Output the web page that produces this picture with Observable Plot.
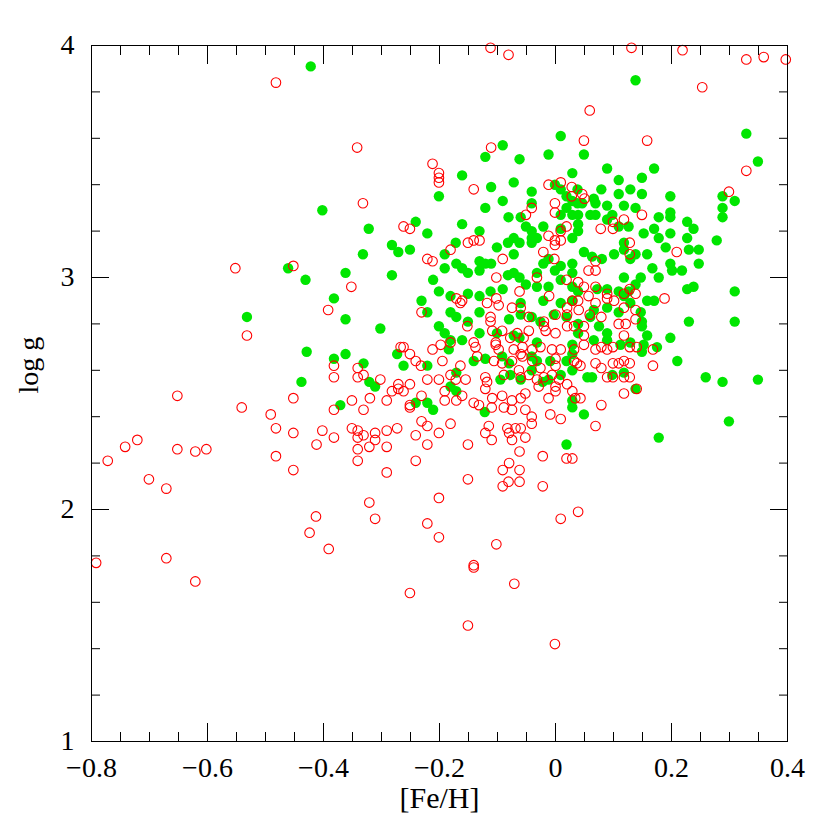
<!DOCTYPE html>
<html><head><meta charset="utf-8">
<script src="https://cdn.jsdelivr.net/npm/d3@7"></script>
<script src="https://cdn.jsdelivr.net/npm/@observablehq/plot@0.6"></script>
<style>html,body{margin:0;padding:0;background:#fff;}</style>
</head><body><div id="chart"></div>
<script>
// [Fe/H], log g  — open red circles
const redStars = [
[-0.532,2.75],[-0.652,2.49],[-0.541,2.44],[-0.491,2.41],[-0.482,2.35],[-0.452,2.48],[-0.452,2.33],[-0.482,2.23],[-0.452,2.17],[-0.721,2.30],[-0.742,2.27],[-0.772,2.21],[-0.701,2.13],[-0.671,2.09],[-0.652,2.26],[-0.621,2.25],[-0.602,2.26],[-0.792,1.77],[-0.671,1.79],[-0.621,1.69],[-0.424,1.90],
[-0.482,3.84],[-0.342,3.56],[-0.332,3.32],[-0.552,3.04],[-0.452,3.05],[-0.352,2.96],[-0.392,2.86],
[-0.413,1.97],[-0.391,1.83],[-0.321,2.03],[-0.311,1.96],[-0.382,2.62],[-0.382,2.57],[-0.382,2.43],[-0.382,2.31],[-0.412,2.28],[-0.402,2.34],[-0.351,2.47],[-0.331,2.43],[-0.320,2.48],[-0.302,2.56],[-0.291,2.47],[-0.341,2.61],[-0.341,2.57],[-0.331,2.58],[-0.351,2.35],[-0.341,2.34],[-0.341,2.31],[-0.331,2.32],[-0.311,2.33],[-0.311,2.30],[-0.321,2.27],[-0.341,2.26],[-0.341,2.21],[-0.291,2.27],[-0.291,2.16],[-0.291,2.34],[-0.273,2.35],[-0.271,2.54],[-0.271,2.52],[-0.282,2.51],[-0.267,2.70],
[-0.151,2.13],[-0.091,2.10],[-0.081,2.12],[-0.062,2.12],[-0.091,2.17],[-0.062,2.17],[-0.022,2.10],[-0.201,2.05],[-0.221,1.94],[-0.201,1.88],[-0.102,1.85],[0.009,1.96],[0.039,1.99],[-0.141,1.76],[-0.141,1.75],[-0.071,1.68],[-0.251,1.64],[-0.151,1.50],[-0.001,1.42],
[0.329,3.94],[0.359,3.95],[0.397,3.94],[0.253,3.82],[0.329,3.46],[0.299,3.37],[-0.112,3.99],[-0.081,3.96],[0.131,3.99],[0.219,3.98],
[0.059,3.72],[0.049,3.59],[0.158,3.59],[0.050,3.34],[0.046,3.36],
[0.149,3.27],[0.118,3.25],[0.099,3.24],[0.099,3.21],[0.078,3.21],[0.128,3.15],[0.128,3.10],[0.209,3.11],[0.069,3.07],[0.069,3.03],[0.057,3.03],[0.049,2.96],[0.069,2.96],[0.089,2.93],[0.089,2.91],[0.101,2.90],[0.128,2.95],[0.138,2.93],[0.118,2.93],[0.069,2.89],[0.118,2.87],[0.138,2.86],[0.138,2.82],[0.057,2.92],[0.059,2.84],[0.079,2.83],[0.109,2.80],[0.121,2.80],[0.049,2.79],[0.049,2.75],[0.118,2.75],[0.188,2.91],[0.128,2.70],[0.140,2.70],[0.168,2.69],[0.069,2.69],[0.079,2.70],[0.089,2.69],[0.099,2.70],[0.069,2.63],[0.079,2.61],[0.099,2.63],[0.109,2.63],[0.118,2.64],[0.128,2.63],[0.168,2.62],[0.089,2.57],[0.099,2.57],[0.118,2.57],[0.128,2.57],[0.140,2.52],[0.118,2.50],[0.079,2.45],[0.043,2.62],[0.043,2.48],
[-0.212,3.49],[-0.201,3.45],[-0.201,3.43],[-0.201,3.41],[-0.111,3.56],[-0.141,3.38],[-0.012,3.40],[0.009,3.41],[0.028,3.39],[0.028,3.35],[-0.001,3.32],[-0.001,3.28],[-0.041,3.30],[-0.051,3.27],[0.019,3.22],[-0.151,3.15],[-0.141,3.16],[-0.131,3.16],[-0.012,3.18],[0.009,3.20],[-0.001,3.16],[-0.001,3.14],[0.009,3.16],[-0.021,3.11],[-0.002,3.08],[-0.221,3.08],[-0.212,3.07],[-0.181,3.12],[-0.091,3.08],[-0.102,3.00],[-0.032,3.00],[0.019,2.99],[0.039,2.98],[-0.062,2.94],[-0.011,2.92],[0.029,2.90],[0.039,2.90],[-0.171,2.91],[-0.161,2.90],[-0.262,3.22],[-0.251,3.21],[-0.102,2.91],
[-0.164,2.89],[-0.118,2.89],[-0.098,2.88],[-0.075,2.87],[-0.060,2.87],[-0.046,2.83],[-0.020,2.81],[-0.020,2.79],[0.000,2.84],[0.020,2.87],[0.020,2.84],[0.040,2.86],[-0.152,2.79],[-0.112,2.83],[-0.112,2.81],[-0.109,2.77],[-0.092,2.77],[-0.078,2.74],[-0.066,2.76],[-0.055,2.74],[-0.046,2.77],[-0.017,2.77],[0.000,2.76],[0.020,2.79],[0.032,2.79],[-0.198,2.71],[-0.181,2.72],[-0.141,2.72],[-0.138,2.70],[-0.103,2.72],[-0.103,2.71],[-0.098,2.69],[-0.072,2.69],[-0.057,2.70],[-0.060,2.67],[-0.040,2.69],[-0.026,2.70],[-0.006,2.69],[0.009,2.69],[0.032,2.69],[0.049,2.71],[-0.195,2.64],[-0.164,2.62],[-0.135,2.66],[-0.106,2.64],[-0.092,2.63],[-0.075,2.64],[-0.057,2.66],[-0.040,2.64],[-0.026,2.61],[0.000,2.65],[0.000,2.62],[0.032,2.64],[0.037,2.63],[-0.181,2.58],[-0.172,2.56],[-0.155,2.56],[-0.121,2.57],[-0.118,2.55],[-0.089,2.58],[-0.063,2.60],[-0.060,2.57],[-0.046,2.58],[-0.032,2.56],[-0.020,2.57],[-0.006,2.58],[0.006,2.56],[0.000,2.53],[0.020,2.54],[-0.161,2.49],[-0.141,2.46],[-0.132,2.45],[-0.109,2.48],[-0.092,2.49],[-0.075,2.47],[-0.060,2.48],[-0.052,2.50],[-0.029,2.53],[-0.012,2.48],[0.000,2.51],[0.029,2.51],[0.034,2.48],[-0.089,2.44],[-0.075,2.43],[-0.052,2.43],[-0.009,2.41],[0.009,2.39],[-0.181,2.37],[-0.115,2.36],[-0.083,2.35],[-0.069,2.35],[-0.060,2.35],[-0.052,2.31],[-0.080,2.33],[-0.075,2.30],[0.069,2.36],
[-0.231,2.85],[-0.262,2.70],[-0.251,2.67],[-0.241,2.64],[-0.232,2.62],[-0.212,2.69],[-0.251,2.54],[-0.262,2.51],[-0.251,2.45],[-0.251,2.44],[-0.231,2.49],[-0.221,2.56],[-0.201,2.56],[-0.191,2.51],[-0.191,2.47],[-0.171,2.47],[-0.241,2.32],[-0.221,2.36],[-0.231,2.38],[-0.221,2.28],[-0.241,2.21],[-0.201,2.33],[-0.151,2.28],[-0.121,2.33],[-0.110,2.30],[-0.062,2.25],[-0.041,2.40],[-0.041,2.37],[-0.022,2.23],[0.019,2.22],[0.029,2.22],[-0.080,2.20],[-0.121,2.52],[-0.110,2.44]
];

// [Fe/H], log g  — filled green dots
const greenStars = [
[-0.532,2.83],[-0.429,2.68],[-0.438,2.55],
[-0.422,3.91],[-0.402,3.29],[-0.322,3.21],[-0.332,3.10],[-0.362,3.02],[-0.461,3.04],[-0.431,2.99],[-0.382,2.91],[-0.362,2.82],
[-0.302,2.78],[-0.382,2.65],[-0.362,2.67],[-0.331,2.63],[-0.273,2.67],[-0.321,2.55],[-0.311,2.53],[-0.371,2.45],
[0.138,3.85],
[0.329,3.62],[0.349,3.50],[0.288,3.35],[0.288,3.30],[0.288,3.26],[0.309,3.33],[0.278,3.16],[0.309,2.94],[0.309,2.81],[0.288,2.55],[0.349,2.56],[0.299,2.38],
[0.049,3.53],[0.089,3.47],[0.109,3.42],[0.149,3.43],[0.170,3.47],[0.129,3.38],[0.149,3.36],[0.109,3.36],[0.079,3.38],[0.066,3.34],[0.198,3.35],
[0.046,3.32],[0.069,3.32],[0.089,3.31],[0.118,3.31],[0.138,3.30],[0.178,3.26],[0.198,3.28],[0.198,3.26],[0.227,3.24],[0.238,3.21],[0.060,3.27],[0.069,3.27],[0.098,3.27],[0.089,3.25],[0.109,3.22],[0.126,3.22],[0.152,3.19],[0.170,3.21],[0.178,3.17],[0.198,3.19],[0.227,3.17],[0.230,3.12],[0.247,3.12],[0.247,3.06],[0.190,3.13],[0.158,3.10],[0.138,3.10],[0.118,3.15],[0.118,3.12],[0.129,3.08],[0.101,3.10],[0.080,3.08],[0.049,3.11],[0.063,3.09],[0.167,3.04],[0.198,3.06],[0.201,3.03],[0.218,3.03],[0.178,3.00],[0.147,3.00],[0.118,3.00],[0.138,2.97],[0.126,2.94],[0.109,2.94],[0.089,2.95],[0.072,2.95],[0.118,2.92],[0.158,2.90],[0.170,2.90],[0.129,2.89],[0.147,2.85],[0.109,2.85],[0.089,2.87],[0.066,2.86],[0.075,2.79],[0.089,2.76],[0.060,2.83],[0.149,2.81],[0.149,2.79],[0.158,2.75],[0.152,2.71],[0.129,2.72],[0.112,2.71],[0.089,2.73],[0.066,2.73],[0.175,2.70],[0.198,2.74],[0.149,2.68],[0.210,2.64],[0.230,2.81],[0.227,2.95],[0.238,2.96],[0.259,2.57],[0.098,2.58],[0.118,2.59],[0.055,2.57],[0.063,2.57],[0.138,2.52],[0.049,2.41],
[0.009,3.61],[-0.091,3.57],[-0.121,3.52],[-0.062,3.51],[-0.012,3.53],[0.029,3.45],[-0.161,3.44],[-0.201,3.35],[-0.111,3.39],[-0.072,3.41],[-0.041,3.37],[-0.091,3.33],[-0.121,3.30],[-0.041,3.32],[-0.001,3.40],[0.009,3.38],[0.019,3.35],[0.029,3.33],[0.038,3.38],[0.038,3.32],[-0.241,3.24],[-0.221,3.19],[-0.282,3.14],[-0.271,3.11],[-0.251,3.12],[-0.161,3.23],[-0.131,3.20],[-0.081,3.26],[-0.060,3.26],[-0.051,3.22],[-0.041,3.20],[-0.041,3.17],[-0.021,3.22],[0.009,3.27],[0.019,3.30],[0.029,3.27],[0.039,3.27],[0.039,3.23],[0.039,3.20],[0.009,3.21],[0.029,3.17],[-0.101,3.13],[-0.082,3.15],[-0.072,3.17],[-0.062,3.15],[-0.041,3.15],[-0.032,3.17],[-0.161,3.04],[-0.151,3.02],[-0.131,3.07],[-0.121,3.06],[-0.131,3.03],[-0.111,3.06],[-0.191,3.10],[-0.171,3.06],[-0.201,2.94],[-0.231,2.90],[-0.282,3.01],[-0.211,2.99],[-0.191,3.04],[-0.072,3.10],[-0.021,3.06],[-0.012,3.08],[-0.001,3.03],[0.009,3.05],[0.029,3.06],[0.009,2.99],[0.029,3.02],[-0.062,3.00],[-0.032,3.02],[-0.051,2.97],[-0.032,2.96],[-0.012,2.96],[-0.112,2.94],[-0.091,2.95],[-0.082,3.01],[-0.072,3.02],[-0.151,2.93],[-0.131,2.92],[-0.181,2.92],[0.029,2.96],[0.039,2.94],[-0.172,3.15],
[-0.221,2.85],[-0.181,2.85],[-0.171,2.83],[-0.151,2.81],[-0.201,2.79],[-0.191,2.76],[-0.181,2.73],[-0.161,2.73],[-0.131,2.85],[-0.131,2.76],[-0.080,2.82],[-0.060,2.89],[-0.041,2.83],[-0.032,2.72],[-0.021,2.90],[0.009,2.89],[0.019,2.83],[0.029,2.90],[0.039,2.80],[0.039,2.76],[0.029,2.71],[0.029,2.67],[0.019,2.64],[0.029,2.60],[0.009,2.58],[-0.012,2.56],[-0.022,2.55],[-0.032,2.64],[-0.041,2.66],[-0.041,2.60],[-0.062,2.74],[-0.072,2.75],[-0.101,2.76],[-0.092,2.66],[-0.080,2.63],[-0.121,2.65],[-0.141,2.64],[-0.171,2.59],[-0.181,2.53],[-0.171,2.51],[-0.221,2.62],[-0.262,2.62],[-0.241,2.46],[-0.221,2.46],[-0.211,2.43],[-0.122,2.42],[-0.060,2.56],[0.029,2.47],[0.029,2.44],[0.019,2.28],
[-0.009,2.64],[-0.078,2.58],[-0.095,2.56],[-0.026,2.81],[-0.003,2.84],[-0.060,2.84],[-0.184,2.69],
[0.178,2.31]
];

const xMajorTicks = [-0.8, -0.6, -0.4, -0.2, 0, 0.2, 0.4];
const xTickLabels = ["\u22120.8", "\u22120.6", "\u22120.4", "\u22120.2", "0", "0.2", "0.4"];
const xMinorTicks = [-0.75,-0.7,-0.65,-0.55,-0.5,-0.45,-0.35,-0.3,-0.25,-0.15,-0.1,-0.05,0.05,0.1,0.15,0.25,0.3,0.35];
const yMajorTicks = [1, 2, 3, 4];
const yTickLabels = ["1", "2", "3", "4"];
const yMinorTicks = [1.2,1.4,1.6,1.8,2.2,2.4,2.6,2.8,3.2,3.4,3.6,3.8];
const xTitle = "[Fe/H]";
const yTitle = "log g";

const blank = () => "";
const fmtX = d => xTickLabels[xMajorTicks.indexOf(d)];
const fmtY = d => yTickLabels[yMajorTicks.indexOf(d)];

const chart = Plot.plot({
  width: 830,
  height: 830,
  marginLeft: 91,
  marginRight: 43,
  marginTop: 45,
  marginBottom: 89,
  x: {domain: [-0.8, 0.4]},
  y: {domain: [1, 4]},
  style: {fontFamily: "'Liberation Serif', 'DejaVu Serif', serif", fontSize: "28px", background: "white", color: "black"},
  marks: [
    Plot.dot(greenStars, {x: d => d[0], y: d => d[1], r: 5.2, fill: "#00e600", stroke: "none"}),
    Plot.dot(redStars, {x: d => d[0], y: d => d[1], r: 4.8, stroke: "#ff0000", strokeWidth: 1.1, fill: "none"}),
    Plot.frame({stroke: "black", strokeWidth: 1}),
    // inward ticks, all four sides
    Plot.axisX(xMajorTicks, {anchor: "bottom", tickSize: -18, tickFormat: blank, label: null}),
    Plot.axisX(xMinorTicks, {anchor: "bottom", tickSize: -9, tickFormat: blank, label: null}),
    Plot.axisX(xMajorTicks, {anchor: "top", tickSize: -18, tickFormat: blank, label: null}),
    Plot.axisX(xMinorTicks, {anchor: "top", tickSize: -9, tickFormat: blank, label: null}),
    Plot.axisY(yMajorTicks, {anchor: "left", tickSize: -18, tickFormat: blank, label: null}),
    Plot.axisY(yMinorTicks, {anchor: "left", tickSize: -9, tickFormat: blank, label: null}),
    Plot.axisY(yMajorTicks, {anchor: "right", tickSize: -18, tickFormat: blank, label: null}),
    Plot.axisY(yMinorTicks, {anchor: "right", tickSize: -9, tickFormat: blank, label: null}),
    // tick labels
    Plot.axisX(xMajorTicks, {anchor: "bottom", tickSize: 0, tickPadding: 16, tickFormat: fmtX, label: null}),
    Plot.axisY(yMajorTicks, {anchor: "left", tickSize: 0, tickPadding: 17, tickFormat: fmtY, label: null}),
    // axis titles
    Plot.text([xTitle], {frameAnchor: "bottom", dy: 66, text: d => d, fontSize: 30, letterSpacing: "1.5px"}),
    Plot.text([yTitle], {frameAnchor: "left", dx: -62, rotate: -90, text: d => d, fontSize: 28, letterSpacing: "1px"})
  ]
});
document.getElementById("chart").appendChild(chart);
</script>
</body></html>
